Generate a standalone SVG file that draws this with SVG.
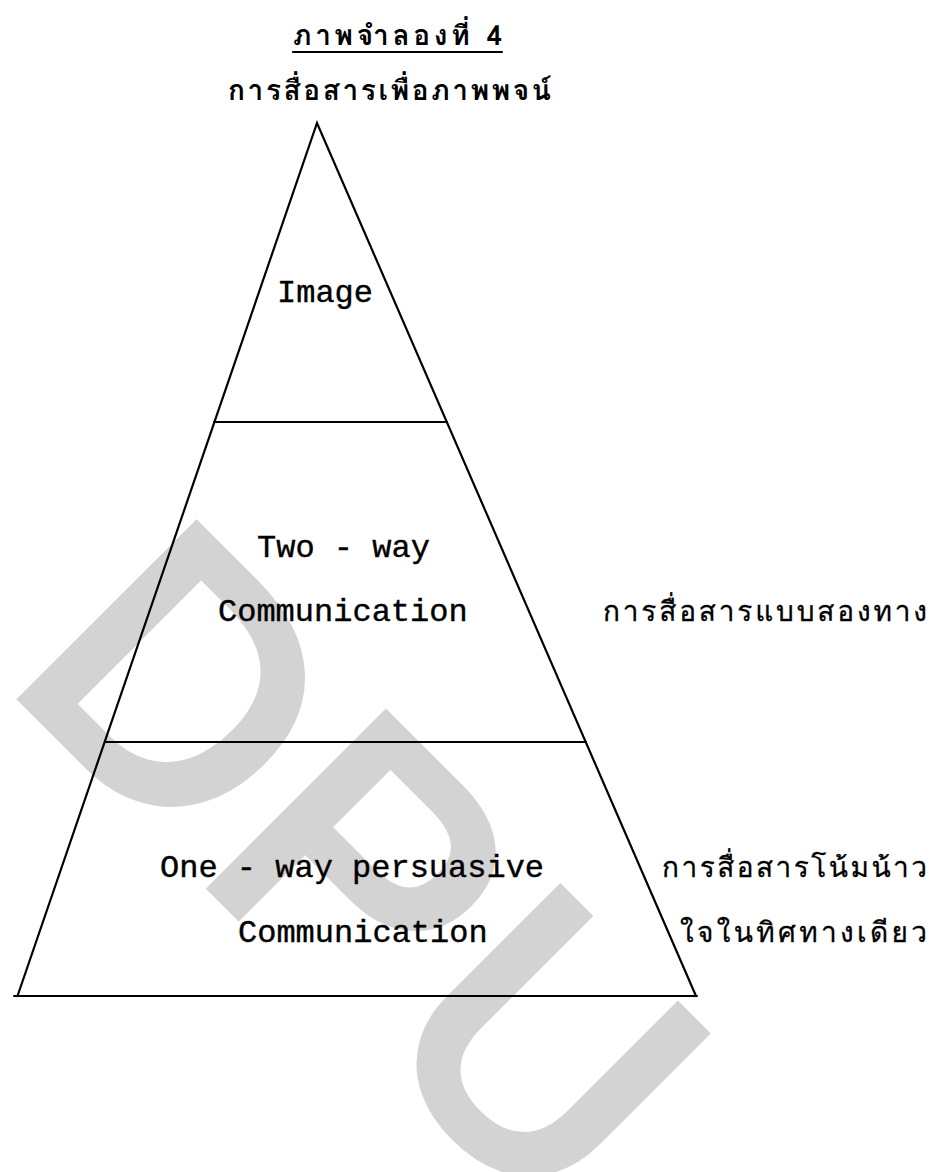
<svg xmlns="http://www.w3.org/2000/svg" width="935" height="1172" viewBox="0 0 935 1172">
<style>
.wm{font-family:"Liberation Sans",Arial,sans-serif;font-weight:normal;font-size:350px;fill:#d3d3d3;stroke:#d3d3d3;stroke-width:14;stroke-linejoin:miter;letter-spacing:15px}
.ln{stroke:#000;stroke-width:2.2;fill:none;stroke-linecap:round;stroke-linejoin:miter}
.en{font-family:"Liberation Mono","Courier New",monospace;font-size:32px;fill:#000;stroke:#000;stroke-width:0.4}
.th{font-family:"TlwgTypewriter","Tlwg Typo","Loma","Garuda","Noto Sans Thai Looped","Noto Serif Thai","Noto Sans Thai","Noto Sans",sans-serif;font-size:28px;fill:#000;stroke:#000;stroke-width:0.3}
.tt{font-family:"TlwgTypewriter","Tlwg Typo","Loma","Garuda","Noto Sans Thai Looped","Noto Serif Thai","Noto Sans Thai","Noto Sans",sans-serif;font-size:28px;font-weight:bold;fill:#000}
</style>
<rect x="0" y="0" width="935" height="1172" fill="#ffffff"/>
<g id="watermark">
<text class="wm" transform="translate(6,679) rotate(45)">DPU</text>
</g>
<g id="title">
<text class="tt" x="293" y="45" textLength="209" lengthAdjust="spacing">ภาพจำลองที่ 4</text>
<line class="ln" x1="293" y1="52" x2="502" y2="52" stroke-width="2.6"/>
<text class="tt" x="228" y="100" textLength="323" lengthAdjust="spacing">การสื่อสารเพื่อภาพพจน์</text>
</g>
<g id="connectors">
<path class="ln" d="M17.5,996 L317,123 L696,996"/>
</g>
<g id="tier-image">
<text class="en" x="277" y="302">Image</text>
<line class="ln" x1="214" y1="422" x2="447" y2="422" stroke-width="2.6"/>
</g>
<g id="tier-two-way">
<text class="en" x="257" y="557">Two - way</text>
<text class="en" x="218" y="621">Communication</text>
<line class="ln" x1="105" y1="742" x2="586" y2="742" stroke-width="2.4"/>
<text class="th" x="603" y="621" textLength="324" lengthAdjust="spacing">การสื่อสารแบบสองทาง</text>
</g>
<g id="tier-one-way">
<text class="en" x="160" y="877">One - way persuasive</text>
<text class="en" x="238" y="942">Communication</text>
<line class="ln" x1="14" y1="996" x2="697" y2="996" stroke-width="2.6"/>
<text class="th" x="662" y="877" textLength="265" lengthAdjust="spacing">การสื่อสารโน้มน้าว</text>
<text class="th" x="680" y="942" textLength="247" lengthAdjust="spacing">ใจในทิศทางเดียว</text>
</g>
</svg>
